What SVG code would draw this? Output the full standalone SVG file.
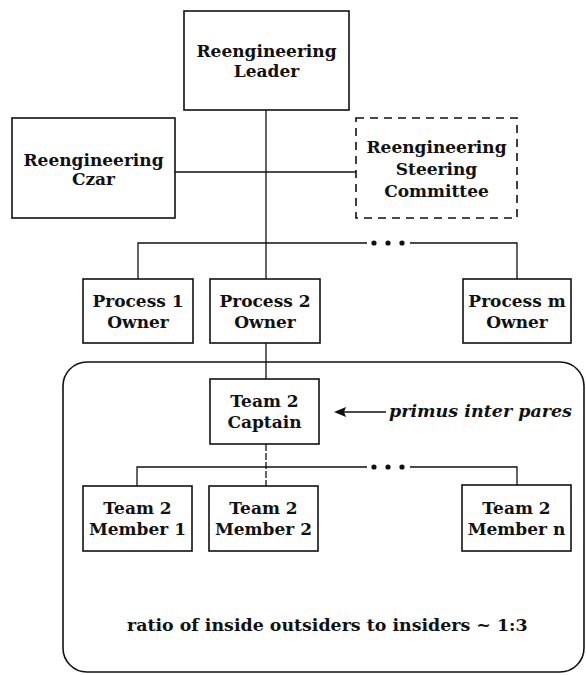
<svg xmlns="http://www.w3.org/2000/svg" width="586" height="675" viewBox="0 0 586 675">
<style>
  .box { fill: #fff; stroke: #111; stroke-width: 1.6; }
  .dash { fill: #fff; stroke: #111; stroke-width: 1.6; stroke-dasharray: 8 6; }
  .lbl { font-family: "DejaVu Serif", "Liberation Serif", serif; font-weight: bold; font-size: 17px; fill: #111; text-anchor: middle; }
  .con { fill: none; stroke: #111; stroke-width: 1.3; }
  .note { font-family: "DejaVu Serif", "Liberation Serif", serif; font-weight: bold; font-style: italic; font-size: 17.5px; fill: #111; }
  .ratio { font-family: "DejaVu Serif", "Liberation Serif", serif; font-weight: bold; font-size: 17.4px; fill: #111; }
</style>

<g id="team-frame">
  <rect x="63" y="362" width="521" height="310" rx="24" ry="24" fill="none" stroke="#111" stroke-width="1.6"/>
</g>

<g id="connectors">
  <line class="con" x1="266" y1="110" x2="266" y2="279"/>
  <line class="con" x1="175" y1="172" x2="356" y2="172"/>
  <path class="con" d="M138,279 V243 H367 M410,243 H517 V279"/>
  <line class="con" x1="266" y1="343" x2="266" y2="379"/>
  <line class="con" x1="266" y1="444" x2="266" y2="486" stroke-dasharray="7 2"/>
  <path class="con" d="M137,486 V467 H367 M410,467 H517 V485"/>
  <g fill="#111">
    <circle cx="374" cy="243" r="2.6"/><circle cx="388" cy="243" r="2.6"/><circle cx="402" cy="243" r="2.6"/>
    <circle cx="374" cy="467" r="2.6"/><circle cx="388" cy="467" r="2.6"/><circle cx="402" cy="467" r="2.6"/>
  </g>
  <line class="con" x1="386" y1="412" x2="342" y2="412" stroke-width="1.8"/>
  <polygon points="334,412 346,407 344,412 346,417" fill="#111"/>
</g>

<g id="leader">
  <rect class="box" x="184" y="11" width="165" height="99"/>
  <text class="lbl" x="266.5" y="57">Reengineering</text>
  <text class="lbl" x="266.5" y="77">Leader</text>
</g>
<g id="czar">
  <rect class="box" x="12" y="118" width="163" height="100"/>
  <text class="lbl" x="93.5" y="166">Reengineering</text>
  <text class="lbl" x="93.5" y="185">Czar</text>
</g>
<g id="steering">
  <rect class="dash" x="356" y="118" width="161" height="100"/>
  <text class="lbl" x="436.5" y="153">Reengineering</text>
  <text class="lbl" x="436.5" y="175">Steering</text>
  <text class="lbl" x="436.5" y="197">Committee</text>
</g>
<g id="process1">
  <rect class="box" x="83" y="279" width="110" height="64"/>
  <text class="lbl" x="138" y="307">Process 1</text>
  <text class="lbl" x="138" y="328">Owner</text>
</g>
<g id="process2">
  <rect class="box" x="210" y="279" width="110" height="64"/>
  <text class="lbl" x="265" y="307">Process 2</text>
  <text class="lbl" x="265" y="328">Owner</text>
</g>
<g id="processm">
  <rect class="box" x="463" y="279" width="108" height="64"/>
  <text class="lbl" x="517" y="307">Process m</text>
  <text class="lbl" x="517" y="328">Owner</text>
</g>
<g id="captain">
  <rect class="box" x="210" y="379" width="109" height="65"/>
  <text class="lbl" x="264.5" y="407">Team 2</text>
  <text class="lbl" x="264.5" y="428">Captain</text>
</g>
<g id="note">
  <text class="note" x="389" y="417">primus inter pares</text>
</g>
<g id="member1">
  <rect class="box" x="83" y="486" width="109" height="65"/>
  <text class="lbl" x="137.5" y="514">Team 2</text>
  <text class="lbl" x="137.5" y="535">Member 1</text>
</g>
<g id="member2">
  <rect class="box" x="209" y="486" width="109" height="65"/>
  <text class="lbl" x="263.5" y="514">Team 2</text>
  <text class="lbl" x="263.5" y="535">Member 2</text>
</g>
<g id="membern">
  <rect class="box" x="462" y="485" width="109" height="66"/>
  <text class="lbl" x="516.5" y="514">Team 2</text>
  <text class="lbl" x="516.5" y="535">Member n</text>
</g>
<g id="ratio">
  <text class="ratio" x="127" y="631">ratio of inside outsiders to insiders ~ 1:3</text>
</g>
</svg>
